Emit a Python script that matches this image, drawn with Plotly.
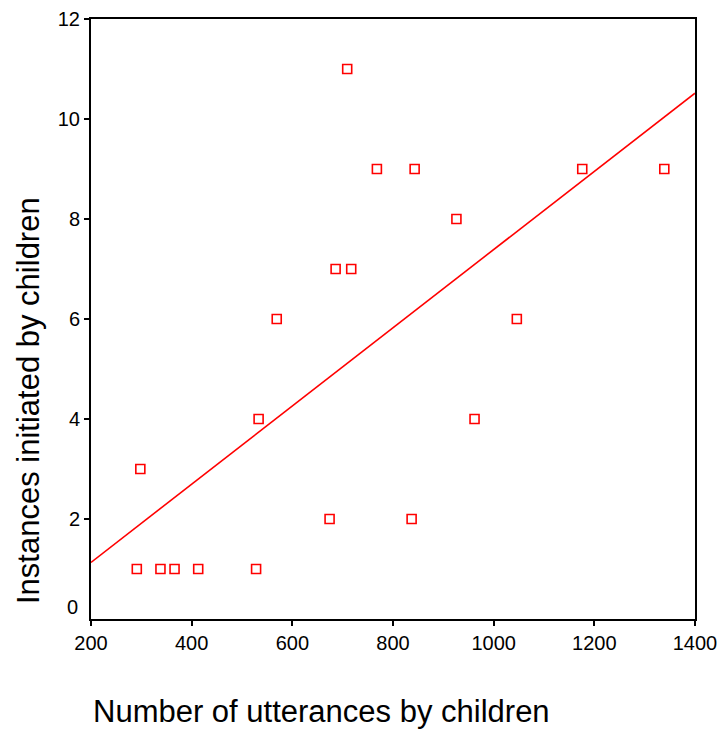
import numpy as np
import plotly.graph_objects as go

utterances = [291, 298, 338, 366, 413, 528, 533, 569, 674, 686,
              709, 717, 768, 837, 843, 926, 962, 1046, 1176, 1339]
instances = [1, 3, 1, 1, 1, 1, 4, 6, 2, 7,
             11, 7, 9, 2, 9, 8, 4, 6, 9, 9]
x_ticks = [200, 400, 600, 800, 1000, 1200, 1400]
y_ticks = [2, 4, 6, 8, 10, 12]

slope, intercept = np.polyfit(utterances, instances, 1)
line_x = [200, 1400]
line_y = [intercept + slope * v for v in line_x]

fig = go.Figure()
fig.add_trace(go.Scatter(x=line_x, y=line_y, mode="lines",
                         line=dict(color="#ff0000", width=1.6),
                         showlegend=False, hoverinfo="skip"))
fig.add_trace(go.Scatter(x=utterances, y=instances, mode="markers",
                         marker=dict(symbol="square-open", size=9,
                                     color="#ff0000", line=dict(width=1.6, color="#ff0000")),
                         showlegend=False))

font = "Arial, Liberation Sans, sans-serif"
L, R, T, B = 91, 28, 19, 113
W, H = 723, 732
pw, ph = W - L - R, H - T - B

def px_x(p):
    return (p - L) / pw

def px_y(p):
    return (H - B - p) / ph

fig.update_layout(
    width=W, height=H,
    margin=dict(l=L, r=R, t=T, b=B, autoexpand=False),
    paper_bgcolor="white", plot_bgcolor="white",
    font=dict(family=font, size=20, color="black"),
    xaxis=dict(range=[200, 1400], tickvals=x_ticks, showgrid=False, zeroline=False,
               showline=True, linecolor="black", linewidth=2, mirror=True,
               ticks="outside", ticklen=5, tickwidth=1.5, tickcolor="black",
               tickfont=dict(size=20), automargin=False),
    yaxis=dict(range=[0, 12], tickvals=y_ticks, showgrid=False, zeroline=False,
               showline=True, linecolor="black", linewidth=2, mirror=True,
               ticks="outside", ticklen=5, tickwidth=1.5, tickcolor="black",
               tickfont=dict(size=20), automargin=False),
    annotations=[
        dict(text="0", x=0, xref="paper", y=0, yref="y", xanchor="right",
             yanchor="middle", xshift=-11, yshift=12, showarrow=False,
             font=dict(size=20)),
        dict(text="Instances initiated by children", x=px_x(28), xref="paper",
             y=px_y(401), yref="paper", showarrow=False, textangle=-90,
             xanchor="center", yanchor="middle", font=dict(size=31)),
        dict(text="Number of utterances by children", x=px_x(321), xref="paper",
             y=px_y(711), yref="paper", showarrow=False,
             xanchor="center", yanchor="middle", font=dict(size=31)),
    ],
)

fig.write_html("out.html", config={"displayModeBar": False},
               post_script="document.body.style.margin='0';document.body.style.padding='0';")
